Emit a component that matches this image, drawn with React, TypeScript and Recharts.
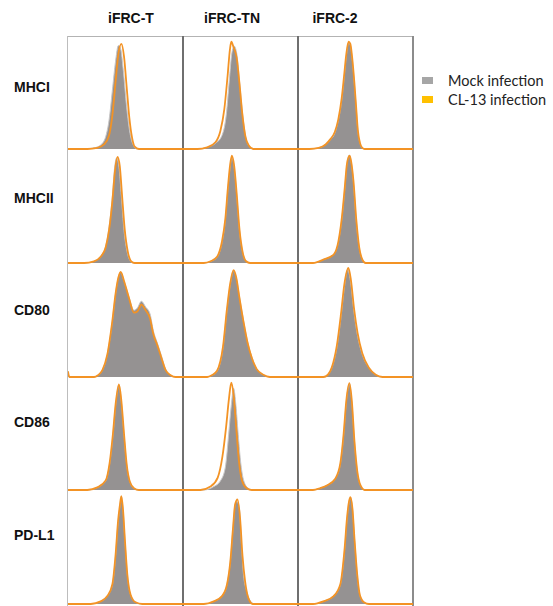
import { ComposedChart, Area, Line, XAxis, YAxis } from "recharts";

type Pt = [number, number];

const columns = ["iFRC-T", "iFRC-TN", "iFRC-2"];
const markers = ["MHCI", "MHCII", "CD80", "CD86", "PD-L1"];
const seriesNames = ["Mock infection", "CL-13 infection"];

// x: relative fluorescence (0-100), y: % of max count
const mhciT_mock: Pt[] = [[0, 0], [14, 0], [22.6, 1], [28.4, 3.5], [32.8, 11], [35.7, 25.5], [38.6, 52], [41.4, 78], [43.8, 91.5], [45.8, 88.6], [48.1, 69.5], [51, 37], [53.9, 14], [56.8, 3.5], [60.3, 0], [100, 0]];
const mhciT_cl13: Pt[] = [[0, 0], [16.8, 0], [25.5, 1], [31.3, 4], [35.7, 12], [38.6, 30], [41.4, 60], [43.8, 84], [46.4, 93], [48.7, 82], [51, 55], [53.3, 28], [55.7, 10], [58, 2], [61.7, 0], [100, 0]];
const mhciTN_mock: Pt[] = [[0, 0], [12.4, 0], [21, 1.5], [28.2, 5], [33.9, 12], [37.6, 30], [40.2, 60], [42.5, 85], [44.5, 91], [46.8, 84], [49.1, 60], [51.7, 32], [54.3, 12], [57.2, 3], [61.2, 0], [100, 0]];
const mhciTN_cl13: Pt[] = [[0, 0], [12.4, 0], [21, 1.5], [28.2, 6], [32.5, 16], [35.9, 35], [38.8, 65], [40.8, 88], [42, 95], [44, 90], [46.8, 80], [49.1, 58], [51.7, 30], [54.3, 11], [57.2, 3], [61.2, 0], [100, 0]];
const mhci2_mock: Pt[] = [[0, 0], [10, 0], [18, 1], [24, 4], [28, 8], [32, 14], [35, 25], [38, 43], [40, 62], [42, 82], [44, 94], [45.5, 92], [47, 81], [49, 58], [50.5, 38], [52, 17], [54, 5], [56, 1], [58, 0], [100, 0]];
const mhci2_cl13: Pt[] = [[0, 0], [10, 0], [18, 1], [24, 4], [28, 8.5], [32, 15], [35, 26], [38, 45], [40, 64], [42, 84], [44, 95], [45.5, 93], [47, 82], [49, 59], [50.5, 38], [52, 17], [54, 5], [56, 1], [58, 0], [100, 0]];

const mhciiT_mock: Pt[] = [[0, 0], [14, 0], [22.6, 1.5], [28.4, 6], [32.8, 15], [35.7, 32], [38.6, 59], [40.6, 85], [42.3, 93], [44.3, 85], [46.4, 59], [48.7, 29], [51.6, 9], [54.5, 1.5], [57.4, 0], [100, 0]];
const mhciiT_cl13: Pt[] = [[0, 0], [14, 0], [22.6, 1.5], [28.4, 5.5], [32.8, 14], [35.7, 29], [38.6, 55], [40.9, 82], [43, 94], [45, 86], [47, 60], [49.3, 30], [52, 10], [55, 1.5], [58, 0], [100, 0]];
const mhciiTN_mock: Pt[] = [[0, 0], [18, 0], [24, 1.5], [29.6, 5], [33.9, 18], [36.8, 38], [39, 65], [41, 85], [42.5, 94], [44.5, 85], [46.8, 59], [49.1, 29], [52, 9], [54.9, 1.5], [58.3, 0], [100, 0]];
const mhciiTN_cl13: Pt[] = [[0, 0], [18, 0], [24, 1.5], [29.6, 5.5], [33.9, 19], [36.8, 39], [39, 66], [41, 87], [42.5, 95], [44.5, 86], [46.8, 60], [49.1, 30], [52, 9], [54.9, 1.5], [58.3, 0], [100, 0]];
const mhcii2_mock: Pt[] = [[0, 0], [13, 0], [22, 3], [31, 7.5], [35, 18], [38, 38], [40.6, 65], [42.6, 88], [44.7, 95.5], [46, 91], [48, 74], [50.6, 38], [53, 15], [56, 3], [58.8, 0], [100, 0]];
const mcii2_cl13: Pt[] = [[0, 0], [13, 0], [22, 3], [31, 7.5], [35, 18.5], [38, 39], [40.6, 66], [42.6, 88], [44.9, 95], [46.2, 90], [48.2, 73], [50.8, 37], [53.2, 14], [56, 3], [58.8, 0], [100, 0]];

const cd80T_mock: Pt[] = [[0, 5], [1.2, 0], [22.6, 0], [26, 1.5], [29.9, 6], [34.2, 20], [38.6, 50], [41.4, 74], [43.8, 88], [45.8, 93], [48.7, 85], [53, 71], [57.4, 59], [60.3, 61], [63.8, 67], [67.5, 62], [71.3, 56], [74.2, 41], [77.7, 30], [81.2, 19], [84.9, 7], [89.3, 1.5], [93.6, 0], [100, 0]];
const cd80T_cl13: Pt[] = [[0, 5], [1.2, 0], [22.6, 0], [26, 1.5], [29.9, 6], [34.2, 20], [38.6, 50], [41.4, 74], [43.8, 88], [45.8, 93], [48.7, 85], [53, 70], [57.4, 57], [60.3, 58], [63.8, 64], [67.5, 59], [71.3, 52], [74.2, 38], [77.7, 28], [81.2, 17], [84.9, 6], [89.3, 1.5], [93.6, 0], [100, 0]];
const cd80TN_mock: Pt[] = [[0, 0], [21, 0], [25, 1.5], [29.6, 5], [34.8, 26], [38.2, 59], [41.1, 82], [44, 94], [46.3, 88], [49.1, 71], [52.6, 50], [56, 32], [59.8, 18], [64.1, 7], [69.8, 2], [75.6, 0], [100, 0]];
const cd80TN_cl13: Pt[] = [[0, 0], [21, 0], [25, 1.5], [29.6, 5.5], [34.8, 27], [38.2, 60], [41.1, 83], [44, 94.5], [46.3, 88], [49.1, 70], [52.6, 49], [56, 31], [59.8, 17], [64.1, 7], [69.8, 2], [75.6, 0], [100, 0]];
const cd802_mock: Pt[] = [[0, 0], [22, 0], [26, 2], [29.4, 8], [33.8, 26], [37.4, 53], [40.3, 79], [43.2, 95], [45.6, 85], [48.5, 59], [51.5, 38], [55.9, 20], [61.8, 8], [67.6, 2], [73.5, 0], [100, 0]];
const cd802_cl13: Pt[] = [[0, 0], [22, 0], [26, 2], [29.4, 8.5], [33.8, 28], [37.4, 56], [40.3, 82], [43.8, 96.5], [46, 86], [48.8, 60], [51.8, 39], [55.9, 21], [61.8, 8], [67.6, 2], [73.5, 0], [100, 0]];

const cd86T_mock: Pt[] = [[0, 0], [16.8, 0], [25.5, 2.3], [32.8, 8], [36.2, 23], [39.1, 49], [41.4, 75], [44.3, 93], [46.4, 78], [48.7, 49], [51, 23], [53.9, 7], [57.4, 1.5], [61.7, 0], [100, 0]];
const cd86T_cl13: Pt[] = [[0, 0], [16.8, 0], [25.5, 2.3], [32.8, 8.5], [36.2, 24], [39.1, 50], [41.4, 76], [44.3, 93.5], [46.4, 79], [48.7, 50], [51, 23], [53.9, 7], [57.4, 1.5], [61.7, 0], [100, 0]];
const cd86TN_mock: Pt[] = [[0, 0], [18, 0], [26.7, 3], [32.5, 8], [36.8, 20], [39.7, 49], [42, 75], [44, 90], [46, 75], [48, 49], [50.3, 23], [53.2, 7], [56.9, 1.5], [61.2, 0], [100, 0]];
const cd86TN_cl13: Pt[] = [[0, 0], [15.2, 0], [23.9, 3], [30.2, 11], [34.2, 29], [37.4, 55], [40, 81], [42, 95], [44, 84], [46.3, 55], [48.6, 26], [51.4, 8], [55.5, 1.5], [59.8, 0], [100, 0]];
const cd862_mock: Pt[] = [[0, 0], [13, 0], [19, 1.5], [25, 4], [32.4, 10], [36.8, 23], [39.7, 49], [42, 78], [44.7, 94], [46.8, 78], [49.1, 43], [51.5, 17], [54.4, 4], [58, 0], [100, 0]];
const cd862_cl13: Pt[] = [[0, 0], [13, 0], [19, 1.5], [25, 4], [32.4, 10], [36.8, 23.5], [39.7, 50], [42, 79], [44.7, 94.5], [46.8, 79], [49.1, 43], [51.5, 17], [54.4, 4], [58, 0], [100, 0]];

const pdl1T_mock: Pt[] = [[0, 0], [19.7, 0], [28.4, 2.3], [34.2, 7], [38.6, 17], [41.4, 43], [43.5, 72], [45.2, 87], [46.4, 95], [47.8, 84], [49.6, 55], [51.6, 26], [54.5, 8], [58.8, 1.5], [64.6, 0], [100, 0]];
const pdl1T_cl13: Pt[] = [[0, 0], [19.7, 0], [28.4, 2.3], [34.2, 7], [38.6, 17.5], [41.4, 44], [43.5, 73], [45.2, 88], [46.4, 95.5], [47.8, 84], [49.6, 55], [51.6, 26], [54.5, 8], [58.8, 1.5], [64.6, 0], [100, 0]];
const pdl1TN_mock: Pt[] = [[0, 0], [18, 0], [26.7, 2.3], [33.9, 7], [38.2, 17], [41.1, 37], [43.4, 66], [45.1, 87], [46.8, 91], [49.1, 84], [50.9, 52], [52.6, 26], [55.5, 11], [58.9, 2.3], [62.6, 0], [100, 0]];
const pdl1TN_cl13: Pt[] = [[0, 0], [18, 0], [26.7, 2.3], [33.9, 7], [38.2, 17], [41.1, 37], [43.4, 66], [45.3, 88], [47.4, 92.5], [49.7, 75], [51.7, 43], [54, 20], [56.9, 5], [60.6, 0], [100, 0]];
const pdl12_mock: Pt[] = [[0, 0], [13, 0], [22, 2.3], [31, 7], [36.8, 17], [40.6, 49], [42.6, 75], [44.4, 90], [45.6, 94], [47.4, 84], [49.1, 59], [51.5, 26], [53.8, 8], [57.4, 1.5], [61.8, 0], [100, 0]];
const pdl12_cl13: Pt[] = [[0, 0], [13, 0], [22, 2.3], [31, 7], [36.8, 17.5], [40.6, 50], [42.6, 76], [44.4, 91], [45.6, 94.5], [47.4, 84], [49.1, 58], [51.5, 26], [53.8, 8], [57.4, 1.5], [61.8, 0], [100, 0]];

const grid: [Pt[], Pt[]][][] = [
  [[mhciT_mock, mhciT_cl13], [mhciTN_mock, mhciTN_cl13], [mhci2_mock, mhci2_cl13]],
  [[mhciiT_mock, mhciiT_cl13], [mhciiTN_mock, mhciiTN_cl13], [mhcii2_mock, mcii2_cl13]],
  [[cd80T_mock, cd80T_cl13], [cd80TN_mock, cd80TN_cl13], [cd802_mock, cd802_cl13]],
  [[cd86T_mock, cd86T_cl13], [cd86TN_mock, cd86TN_cl13], [cd862_mock, cd862_cl13]],
  [[pdl1T_mock, pdl1T_cl13], [pdl1TN_mock, pdl1TN_cl13], [pdl12_mock, pdl12_cl13]],
];

const GRAY = "#959292";
const ORANGE = "#f39325";
const LEFT = 68;
const TOP = 36;
const CELL_W = 115;
const CELL_H = 113.8;
const headerX = [131, 232, 335];
const labelY = [87, 198, 310, 422, 535];

const toRows = (pts: Pt[]) => pts.map(([x, y]) => ({ x, y }));

function Histogram({ mock, cl13 }: { mock: Pt[]; cl13: Pt[] }) {
  return (
    <ComposedChart
      width={CELL_W}
      height={Math.round(CELL_H)}
      margin={{ top: 0, right: 0, bottom: 1, left: 0 }}
      style={{ overflow: "visible" }}
    >
      <XAxis type="number" dataKey="x" domain={[0, 100]} hide allowDataOverflow />
      <YAxis type="number" domain={[0, 100]} hide />
      <Area
        data={toRows(mock)}
        dataKey="y"
        type="monotone"
        fill={GRAY}
        fillOpacity={1}
        stroke="#c9c7c7"
        strokeWidth={1}
        isAnimationActive={false}
      />
      <Line
        data={toRows(cl13)}
        dataKey="y"
        type="monotone"
        stroke={ORANGE}
        strokeWidth={1.8}
        dot={false}
        isAnimationActive={false}
      />
    </ComposedChart>
  );
}

export default function App() {
  const bold = { fontFamily: "Arial, 'Liberation Sans', sans-serif", fontWeight: 700, fontSize: 14, color: "#111" };
  return (
    <div style={{ position: "absolute", left: 0, top: 0, width: 553, height: 606, background: "#fff", overflow: "hidden" }}>
      {columns.map((c, i) => (
        <div key={c} style={{ ...bold, position: "absolute", left: headerX[i] - 40, width: 80, top: 9, textAlign: "center", lineHeight: "18px" }}>
          {c}
        </div>
      ))}
      {markers.map((m, i) => (
        <div key={m} style={{ ...bold, position: "absolute", left: 14, top: labelY[i] - 9, lineHeight: "18px" }}>
          {m}
        </div>
      ))}
      {/* frame */}
      <div style={{ position: "absolute", left: LEFT, top: TOP, width: CELL_W * 3, height: 1, background: "#b3b3b3" }} />
      <div style={{ position: "absolute", left: LEFT - 1, top: TOP, width: 1, height: 570, background: "#bdbdbd" }} />
      {[1, 2].map((k) => (
        <div key={k} style={{ position: "absolute", left: LEFT + k * CELL_W - 1, top: TOP, width: 2, height: 570, background: "#6f6f6f" }} />
      ))}
      <div style={{ position: "absolute", left: LEFT + 3 * CELL_W - 1, top: TOP, width: 1.5, height: 570, background: "#8c8c8c" }} />
      {grid.map((row, r) =>
        row.map(([mock, cl13], c) => (
          <div
            key={`${r}-${c}`}
            style={{ position: "absolute", left: LEFT + c * CELL_W, top: Math.round(TOP + r * CELL_H), width: CELL_W, height: Math.round(CELL_H) }}
          >
            <Histogram mock={mock} cl13={cl13} />
          </div>
        ))
      )}
      {/* legend */}
      {seriesNames.map((s, i) => (
        <div key={s} style={{ position: "absolute", left: 422, top: 71 + i * 19, height: 18, display: "flex", alignItems: "center" }}>
          <div style={{ width: 11, height: 7, background: i === 0 ? "#a6a6a6" : "#ffc000", marginRight: 15 }} />
          <span style={{ fontFamily: "Lato, 'Open Sans', sans-serif", fontSize: 14.5, color: "#222" }}>{s}</span>
        </div>
      ))}
    </div>
  );
}
